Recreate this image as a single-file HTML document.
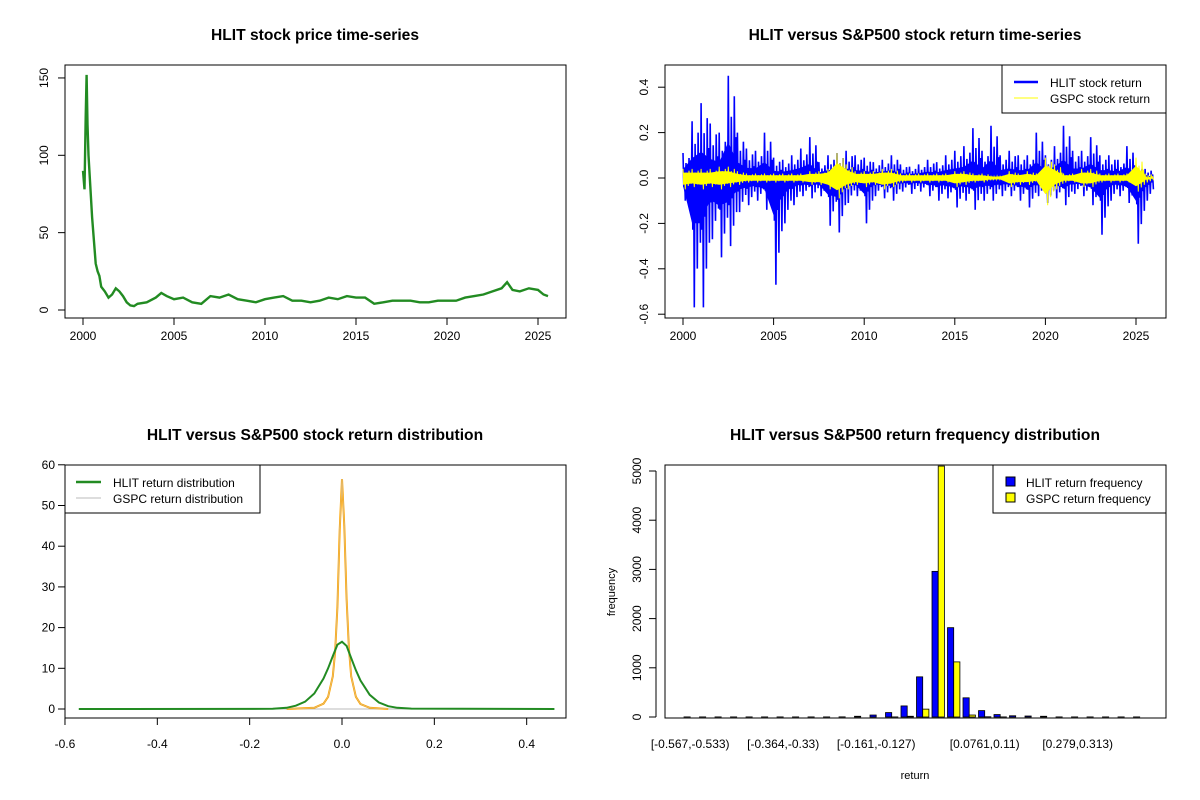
<!DOCTYPE html>
<html><head><meta charset="utf-8"><style>
body{margin:0;background:#fff}
svg{display:block;font-family:"Liberation Sans",Arial,sans-serif}
.t{font-weight:bold;font-size:15.6px}
.k{font-size:12px}
</style></head><body>
<svg id="c" width="1200" height="800" viewBox="0 0 1200 800"></svg>
<script>
// ---- Panel 1: price
const priceYears=[2000.0,2000.08,2000.15,2000.2,2000.25,2000.3,2000.4,2000.5,2000.6,2000.7,2000.8,2000.9,2001.0,2001.2,2001.4,2001.6,2001.8,2002.0,2002.2,2002.4,2002.6,2002.8,2003.0,2003.5,2004.0,2004.3,2004.6,2005.0,2005.5,2006.0,2006.5,2007.0,2007.5,2008.0,2008.5,2009.0,2009.5,2010.0,2010.5,2011.0,2011.5,2012.0,2012.5,2013.0,2013.5,2014.0,2014.5,2015.0,2015.5,2016.0,2016.5,2017.0,2017.5,2018.0,2018.5,2019.0,2019.5,2020.0,2020.5,2021.0,2021.5,2022.0,2022.5,2023.0,2023.3,2023.6,2024.0,2024.5,2025.0,2025.3,2025.55];
const priceVals=[90,78,125,152,120,100,80,60,45,30,25,22,15,12,8,10,14,12,9,5,3,2.5,4,5,8,11,9,7,8,5,4,9,8,10,7,6,5,7,8,9,6,6,5,6,8,7,9,8,8,4,5,6,6,6,5,5,6,6,6,8,9,10,12,14,18,13,12,14,13,10,9];
const p1Ticks=[0,50,100,150];
const yearTicks=[2000,2005,2010,2015,2020,2025];
// ---- Panel 2: returns (half-year envelope)
const retYears=[2000.0,2000.5,2001.0,2001.5,2002.0,2002.5,2003.0,2003.5,2004.0,2004.5,2005.0,2005.5,2006.0,2006.5,2007.0,2007.5,2008.0,2008.5,2009.0,2009.5,2010.0,2010.5,2011.0,2011.5,2012.0,2012.5,2013.0,2013.5,2014.0,2014.5,2015.0,2015.5,2016.0,2016.5,2017.0,2017.5,2018.0,2018.5,2019.0,2019.5,2020.0,2020.5,2021.0,2021.5,2022.0,2022.5,2023.0,2023.5,2024.0,2024.5,2025.0,2025.5];
const hlitHi=[0.11,0.25,0.33,0.24,0.2,0.45,0.2,0.13,0.12,0.2,0.09,0.08,0.1,0.13,0.18,0.07,0.1,0.11,0.12,0.1,0.09,0.07,0.08,0.1,0.06,0.05,0.06,0.08,0.07,0.1,0.12,0.14,0.22,0.12,0.23,0.1,0.12,0.1,0.1,0.2,0.1,0.14,0.23,0.12,0.12,0.18,0.1,0.1,0.08,0.14,0.05,0.04];
const hlitLo=[-0.1,-0.57,-0.57,-0.27,-0.35,-0.3,-0.15,-0.12,-0.1,-0.14,-0.47,-0.2,-0.12,-0.08,-0.09,-0.08,-0.21,-0.24,-0.11,-0.08,-0.2,-0.08,-0.09,-0.1,-0.06,-0.07,-0.06,-0.08,-0.1,-0.09,-0.13,-0.1,-0.14,-0.1,-0.1,-0.08,-0.08,-0.1,-0.13,-0.08,-0.11,-0.09,-0.12,-0.07,-0.08,-0.12,-0.25,-0.1,-0.08,-0.11,-0.29,-0.1];
const gspcHi=[0.04,0.04,0.04,0.04,0.05,0.05,0.03,0.02,0.02,0.02,0.02,0.02,0.02,0.02,0.03,0.03,0.04,0.11,0.06,0.03,0.03,0.03,0.04,0.04,0.02,0.02,0.02,0.02,0.02,0.02,0.03,0.03,0.02,0.02,0.01,0.01,0.03,0.02,0.03,0.02,0.09,0.06,0.02,0.02,0.04,0.04,0.02,0.02,0.02,0.02,0.09,0.02];
const gspcLo=[-0.05,-0.04,-0.05,-0.04,-0.05,-0.04,-0.03,-0.02,-0.02,-0.02,-0.02,-0.02,-0.02,-0.02,-0.03,-0.03,-0.05,-0.09,-0.05,-0.03,-0.04,-0.03,-0.05,-0.04,-0.02,-0.02,-0.02,-0.02,-0.02,-0.02,-0.04,-0.03,-0.02,-0.02,-0.01,-0.01,-0.04,-0.03,-0.03,-0.02,-0.12,-0.05,-0.02,-0.02,-0.04,-0.04,-0.02,-0.02,-0.02,-0.02,-0.06,-0.02];
const p2Ticks=[-0.6,-0.4,-0.2,0.0,0.2,0.4];
// ---- Panel 3: densities
const hlitDx=[-0.57,-0.15,-0.12,-0.1,-0.08,-0.06,-0.04,-0.03,-0.02,-0.01,0,0.01,0.02,0.03,0.04,0.06,0.08,0.1,0.12,0.15,0.46];
const hlitDy=[0,0.05,0.3,0.8,1.8,3.8,7.5,10,13,15.8,16.5,15.5,12.5,9.5,7,3.5,1.6,0.7,0.3,0.1,0];
const gspcDx=[-0.12,-0.06,-0.04,-0.03,-0.02,-0.015,-0.01,-0.005,0,0.005,0.01,0.015,0.02,0.03,0.04,0.06,0.1];
const gspcDy=[0,0.3,1.3,3,8,14,25,44,56.5,45,27,15,8,3,1.2,0.3,0];
const p3YTicks=[0,10,20,30,40,50,60];
const p3XTicks=[-0.6,-0.4,-0.2,0.0,0.2,0.4];
// ---- Panel 4: histogram
const hlitFreq=[2,2,2,2,2,2,2,2,2,2,3,15,40,90,225,816,2960,1816,390,130,50,25,20,15,2,2,2,2,2,2];
const gspcFreq=[0,0,0,0,0,0,0,0,0,0,0,0,0,2,15,160,5600,1120,40,5,2,0,0,0,0,0,0,0,0,0];
const binLabels=["[-0.567,-0.533)","","","","","","[-0.364,-0.33)","","","","","","[-0.161,-0.127)","","","","","","","[0.0761,0.11)","","","","","","[0.279,0.313)","","","",""];
const p4Ticks=[0,1000,2000,3000,4000,5000];

const NS="http://www.w3.org/2000/svg";
const svg=document.getElementById('c');
function el(tag,attrs,parent,txt){const e=document.createElementNS(NS,tag);for(const k in attrs)e.setAttribute(k,attrs[k]);if(txt!==undefined)e.textContent=txt;(parent||svg).appendChild(e);return e;}
function grp(name){const g=el('g',{},svg);return g;}

// ===== Panel 1
(function(){
const g=grp('price-panel');
const X=v=>83+(v-2000)*18.2, Y=v=>310-v*1.547;
let t=el('text',{x:315,y:40,'text-anchor':'middle',class:'t'},g,'HLIT stock price time-series');

let b=el('rect',{x:65,y:65,width:501,height:253,fill:'none',stroke:'#000'},g);

let d='';priceYears.forEach((yr,i)=>{d+=(i?'L':'M')+X(yr).toFixed(1)+','+Y(priceVals[i]).toFixed(1);});
let ln=el('path',{d:d,fill:'none',stroke:'#228b22','stroke-width':2.4},g);

p1Ticks.forEach(v=>{el('line',{x1:58,x2:65,y1:Y(v),y2:Y(v),stroke:'#000'},g);
 const tx=el('text',{x:48,y:Y(v),'text-anchor':'middle',class:'k',transform:`rotate(-90 48 ${Y(v)})`},g,v);
 });
yearTicks.forEach(v=>{el('line',{x1:X(v),x2:X(v),y1:318,y2:325,stroke:'#000'},g);
 const tx=el('text',{x:X(v),y:340,'text-anchor':'middle',class:'k'},g,v);
 });
})();

// ===== Panel 2
(function(){
const g=grp('return-panel');
const X=v=>683+(v-2000)*18.12, Y=v=>178-v*227;
let t=el('text',{x:915,y:40,'text-anchor':'middle',class:'t'},g,'HLIT versus S&P500 stock return time-series');

function band(hi,lo,color,name,sw,core){
 let c='';retYears.forEach((yr,i)=>{c+=(i?'L':'M')+X(yr).toFixed(1)+','+Y(hi[i]*core).toFixed(1);});
 for(let i=retYears.length-1;i>=0;i--)c+='L'+X(retYears[i]).toFixed(1)+','+Y(lo[i]*core).toFixed(1);
 const q=el('path',{d:c+'Z',fill:color},g);
 
 let d='';retYears.forEach((yr,i)=>{
  const x0=X(yr),step=18.12/2/6;
  for(let k=0;k<6;k++){const f=[1,0.3,0.6,0.2,0.8,0.4][k];
   d+=(i||k?'L':'M')+(x0+k*step).toFixed(1)+','+Y(hi[i]*f).toFixed(1)+'L'+(x0+k*step+step/2).toFixed(1)+','+Y(lo[i]*[0.4,1,0.3,0.7,0.2,0.5][k]).toFixed(1);}
 });
 const p=el('path',{d:d,fill:'none',stroke:color,'stroke-width':sw},g);
 
}
band(hlitHi,hlitLo,'#0000ff','hlit-return-line',1.6,0.35);
band(gspcHi,gspcLo,'#ffff00','gspc-return-line',1,0.6);
let b=el('rect',{x:665,y:65,width:501,height:253,fill:'none',stroke:'#000'},g);

p2Ticks.forEach(v=>{el('line',{x1:658,x2:665,y1:Y(v),y2:Y(v),stroke:'#000'},g);
 const tx=el('text',{x:648,y:Y(v),'text-anchor':'middle',class:'k',transform:`rotate(-90 648 ${Y(v)})`},g,v.toFixed(1));
 });
yearTicks.forEach(v=>{el('line',{x1:X(v),x2:X(v),y1:318,y2:325,stroke:'#000'},g);
 const tx=el('text',{x:X(v),y:340,'text-anchor':'middle',class:'k'},g,v);
 });
const lg=el('g',{},g);
el('rect',{x:1002,y:65,width:164,height:48,fill:'#fff',stroke:'#000'},lg);
el('line',{x1:1014,x2:1038,y1:82,y2:82,stroke:'#0000ff','stroke-width':2.5},lg);
el('line',{x1:1014,x2:1038,y1:98,y2:98,stroke:'#ffff00','stroke-width':1},lg);
el('text',{x:1050,y:87,class:'k'},lg,'HLIT stock return');
el('text',{x:1050,y:103,class:'k'},lg,'GSPC stock return');
})();

// ===== Panel 3
(function(){
const g=grp('density-panel');
const X=v=>342+v*461.7, Y=v=>709-v*4.07;
let t=el('text',{x:315,y:440,'text-anchor':'middle',class:'t'},g,'HLIT versus S&P500 stock return distribution');

let b=el('rect',{x:65,y:465,width:501,height:253,fill:'none',stroke:'#000'},g);

el('line',{x1:X(-0.57),x2:X(0.46),y1:Y(0),y2:Y(0),stroke:'#bbb'},g);
let d='';gspcDx.forEach((x,i)=>{d+=(i?'L':'M')+X(x).toFixed(1)+','+Y(gspcDy[i]).toFixed(1);});
let o=el('path',{d:d,fill:'none',stroke:'#ffa500','stroke-width':2},g);

let gr=el('path',{d:d,fill:'none',stroke:'#ccc','stroke-width':0.5},g);

let d2='';hlitDx.forEach((x,i)=>{d2+=(i?'L':'M')+X(x).toFixed(1)+','+Y(hlitDy[i]).toFixed(1);});
let h=el('path',{d:d2,fill:'none',stroke:'#228b22','stroke-width':2},g);

p3YTicks.forEach(v=>{el('line',{x1:58,x2:65,y1:Y(v),y2:Y(v),stroke:'#000'},g);
 const tx=el('text',{x:55,y:Y(v)+4,'text-anchor':'end',class:'k'},g,v);
 });
p3XTicks.forEach(v=>{el('line',{x1:X(v),x2:X(v),y1:718,y2:725,stroke:'#000'},g);
 const tx=el('text',{x:X(v),y:748,'text-anchor':'middle',class:'k'},g,v.toFixed(1));
 });
const lg=el('g',{},g);
el('rect',{x:65,y:465,width:195,height:48,fill:'#fff',stroke:'#000'},lg);
el('line',{x1:76,x2:101,y1:482,y2:482,stroke:'#228b22','stroke-width':2.5},lg);
el('line',{x1:76,x2:101,y1:498,y2:498,stroke:'#bbb','stroke-width':1},lg);
el('text',{x:113,y:487,class:'k'},lg,'HLIT return distribution');
el('text',{x:113,y:503,class:'k'},lg,'GSPC return distribution');
})();

// ===== Panel 4
(function(){
const g=grp('histogram-panel');
const Y=v=>717-Math.min(v,5100)*0.0492; const gw=15.5, x0=683;
let t=el('text',{x:915,y:440,'text-anchor':'middle',class:'t'},g,'HLIT versus S&P500 return frequency distribution');

hlitFreq.forEach((v,i)=>{const x=x0+i*gw+1;
 const r=el('rect',{x:x,y:Y(v),width:6.2,height:717-Y(v),fill:'#0000ff',stroke:'#000','stroke-width':0.8},g);
 
 const w=gspcFreq[i];
 const r2=el('rect',{x:x+6.2,y:Y(w),width:6.2,height:717-Y(w),fill:'#ffff00',stroke:'#000','stroke-width':0.8},g);
 
 if(binLabels[i]){const tx=el('text',{x:x+6.2,y:748,'text-anchor':'middle',class:'k'},g,binLabels[i]);
  }
});
let b=el('rect',{x:665,y:465,width:501,height:253,fill:'none',stroke:'#000'},g);

el('line',{x1:656,x2:656,y1:Y(0),y2:Y(5000),stroke:'#000'},g);
p4Ticks.forEach(v=>{el('line',{x1:649,x2:656,y1:Y(v),y2:Y(v),stroke:'#000'},g);
 const tx=el('text',{x:641,y:Y(v),'text-anchor':'middle',class:'k',transform:`rotate(-90 641 ${Y(v)})`},g,v);
 });
let yl=el('text',{x:615,y:592,'text-anchor':'middle',style:'font-size:11px',transform:'rotate(-90 615 592)'},g,'frequency');

let xl=el('text',{x:915,y:779,'text-anchor':'middle',style:'font-size:11px'},g,'return');

const lg=el('g',{},g);
el('rect',{x:993,y:465,width:173,height:48,fill:'#fff',stroke:'#000'},lg);
el('rect',{x:1006,y:477,width:9,height:9,fill:'#0000ff',stroke:'#000'},lg);
el('rect',{x:1006,y:493,width:9,height:9,fill:'#ffff00',stroke:'#000'},lg);
el('text',{x:1026,y:487,class:'k'},lg,'HLIT return frequency');
el('text',{x:1026,y:503,class:'k'},lg,'GSPC return frequency');
})();
</script>
</body></html>
